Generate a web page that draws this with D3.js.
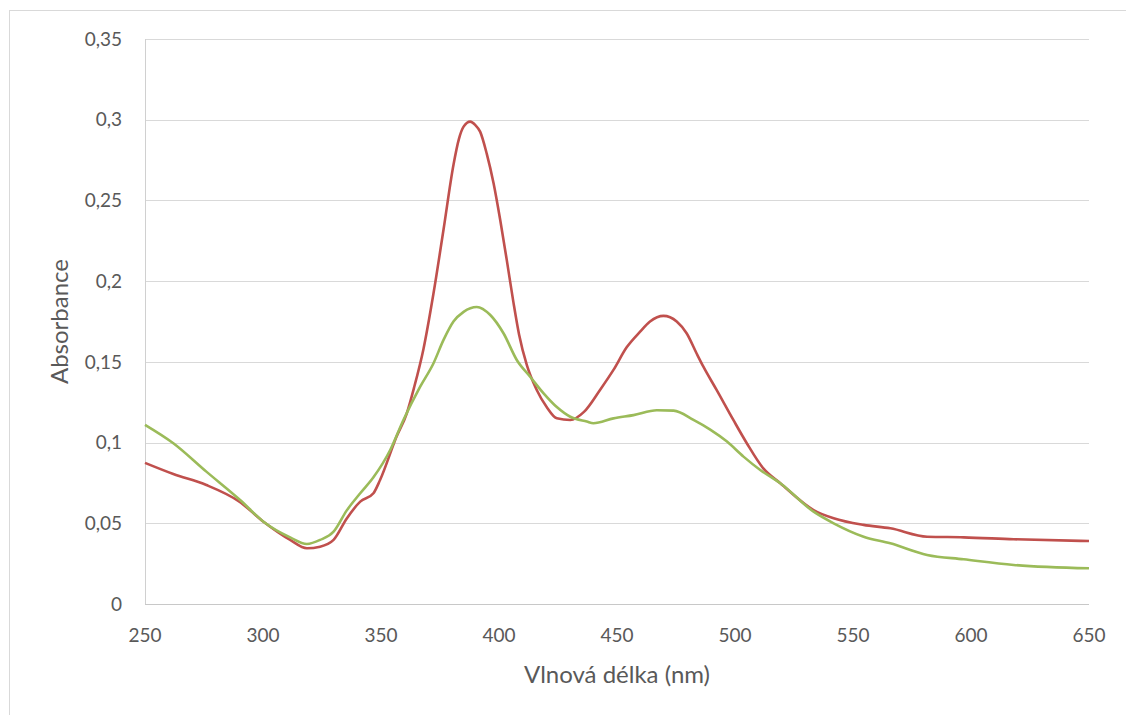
<!DOCTYPE html>
<html lang="cs">
    <head>
        <meta charset="UTF-8">
        <title>Absorbance</title>
        <script src="https://d3js.org/d3.v7.min.js"></script>
        <style>
            body { margin: 0; padding: 0; background: #fff; overflow: hidden; }
            svg { display: block; }
            text { font-family: Lato, "Open Sans", sans-serif; fill: #595959; }
        </style>
    </head>
    <body>
        <svg id="chart" width="1126" height="715"></svg>

        <script>
            // wavelength (nm) / absorbance
            const redNm  = [250, 262, 276, 290, 300.2, 311.5, 318.6, 324.2, 329.9, 335.5, 341.2, 346.8, 349.6, 356.6, 360.9, 364, 368, 372.2, 376.5, 380.7, 383, 385, 387.8, 389.9, 392, 394.8, 397.7, 400.5, 403.3, 406.1, 408.5, 411.8, 416, 420.2, 424.5, 430.2, 436, 442.8, 448.5, 454.1, 459.8, 464, 469.7, 475.3, 479.5, 483.8, 486.6, 492.2, 499.3, 505, 512, 519.2, 533.3, 541.8, 554.5, 565.8, 581.4, 596.9, 618.1, 650];
            const redAbs = [0.0874, 0.0805, 0.0737, 0.0634, 0.051, 0.0397, 0.0345, 0.0355, 0.0397, 0.053, 0.0634, 0.0686, 0.0768, 0.1037, 0.118, 0.134, 0.158, 0.192, 0.232, 0.272, 0.288, 0.2957, 0.2988, 0.2968, 0.2926, 0.279, 0.2606, 0.238, 0.213, 0.187, 0.167, 0.148, 0.1326, 0.122, 0.115, 0.114, 0.119, 0.1326, 0.145, 0.159, 0.1687, 0.175, 0.1785, 0.175, 0.1677, 0.155, 0.147, 0.1326, 0.114, 0.0996, 0.084, 0.0748, 0.0582, 0.0531, 0.049, 0.0469, 0.0417, 0.0413, 0.0401, 0.039];

            const greenNm  = [250, 262, 276, 290.3, 300.2, 311.5, 318.6, 324.2, 329.9, 335.5, 341.2, 346.8, 353.9, 359.5, 366.6, 372.2, 376.5, 380.7, 385, 390.6, 396.3, 401.9, 407.6, 413.2, 418.9, 424.5, 430.2, 437.2, 440, 448.5, 457, 466.9, 474, 482.4, 489.5, 496.6, 503.6, 510.7, 519.2, 533.3, 541.8, 554.5, 565.8, 581.4, 596.9, 618.1, 650];
            const greenAbs = [0.111, 0.0996, 0.082, 0.0644, 0.051, 0.0413, 0.0372, 0.0397, 0.0448, 0.058, 0.0686, 0.0785, 0.0954, 0.114, 0.1346, 0.149, 0.1636, 0.175, 0.181, 0.184, 0.179, 0.1677, 0.151, 0.1408, 0.1305, 0.122, 0.116, 0.113, 0.112, 0.115, 0.117, 0.12, 0.1198, 0.114, 0.108, 0.1006, 0.0913, 0.083, 0.0748, 0.0572, 0.05, 0.0417, 0.0376, 0.0304, 0.0277, 0.0242, 0.0221];

            const xTicks = [250, 300, 350, 400, 450, 500, 550, 600, 650];
            const yTicks = [0, 0.05, 0.1, 0.15, 0.2, 0.25, 0.3, 0.35];

            const series = [
                {color: "#c0504d", nm: redNm, abs: redAbs},
                {color: "#9bbb59", nm: greenNm, abs: greenAbs}
            ];

            const svg = d3.select("#chart");

            // outer frame of the chart object
            svg.append("rect")
                .attr("x", 9.5).attr("y", 10.5)
                .attr("width", 1140).attr("height", 720)
                .attr("fill", "none")
                .attr("stroke", "#d9d9d9");

            const plot = {left: 145, right: 1089, top: 39, bottom: 604};

            const x = d3.scaleLinear().domain([250, 650]).range([plot.left, plot.right]);
            const y = d3.scaleLinear().domain([0, 0.35]).range([plot.bottom, plot.top]);

            const fmt = d => String(+d.toFixed(2)).replace(".", ",");

            // horizontal gridlines
            svg.append("g")
                .selectAll("line")
                .data(yTicks.filter(d => d > 0))
                .join("line")
                .attr("x1", plot.left).attr("x2", plot.right)
                .attr("y1", d => Math.round(y(d)) + 0.5)
                .attr("y2", d => Math.round(y(d)) + 0.5)
                .attr("stroke", "#d9d9d9");

            // axis lines
            svg.append("line")
                .attr("x1", plot.left + 0.5).attr("x2", plot.left + 0.5)
                .attr("y1", plot.top).attr("y2", plot.bottom)
                .attr("stroke", "#d0d0d0");
            svg.append("line")
                .attr("x1", plot.left).attr("x2", plot.right)
                .attr("y1", plot.bottom + 0.5).attr("y2", plot.bottom + 0.5)
                .attr("stroke", "#c8c8c8");

            // tick labels
            svg.append("g")
                .selectAll("text")
                .data(yTicks)
                .join("text")
                .attr("x", 122)
                .attr("y", d => y(d))
                .attr("dy", "0.35em")
                .attr("text-anchor", "end")
                .style("font-size", "19px")
                .text(fmt);

            svg.append("g")
                .selectAll("text")
                .data(xTicks)
                .join("text")
                .attr("x", d => x(d))
                .attr("y", 642)
                .attr("text-anchor", "middle")
                .style("font-size", "19px")
                .text(d => d);

            // axis titles
            svg.append("text")
                .attr("x", (plot.left + plot.right) / 2)
                .attr("y", 683)
                .attr("text-anchor", "middle")
                .style("font-size", "24px")
                .text("Vlnová délka (nm)");

            svg.append("text")
                .attr("transform", `translate(68, ${(plot.top + plot.bottom) / 2}) rotate(-90)`)
                .attr("text-anchor", "middle")
                .style("font-size", "24px")
                .text("Absorbance");

            // spectra
            const line = d3.line()
                .x(d => x(d[0]))
                .y(d => y(d[1]))
                .curve(d3.curveMonotoneX);

            svg.append("g")
                .selectAll("path")
                .data(series)
                .join("path")
                .attr("d", s => line(s.nm.map((n, i) => [n, s.abs[i]])))
                .attr("fill", "none")
                .attr("stroke", s => s.color)
                .attr("stroke-width", 2.6)
                .attr("stroke-linejoin", "round");
        </script>
    </body>
</html>
